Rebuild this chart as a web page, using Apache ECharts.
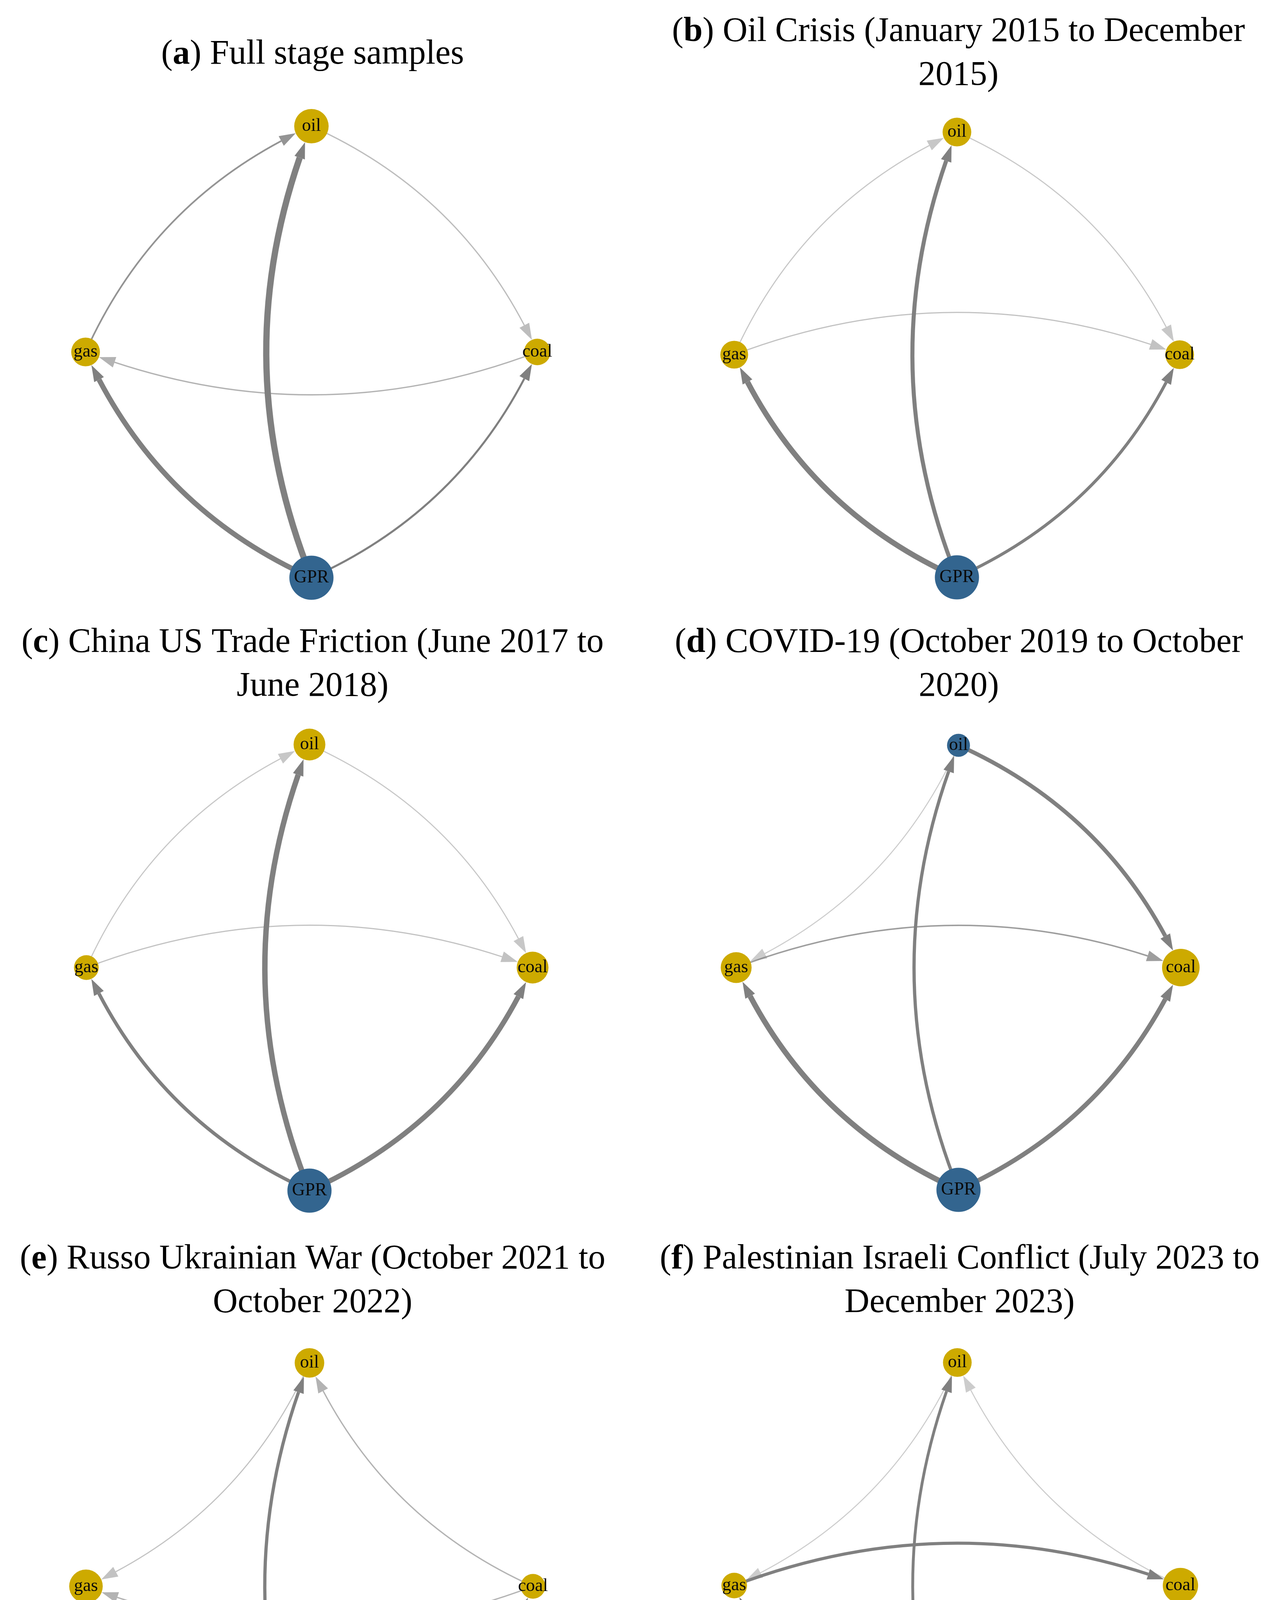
<!DOCTYPE html>
<html>
<head>
<meta charset="utf-8">
<script src="https://cdn.jsdelivr.net/npm/echarts@6/dist/echarts.min.js"></script>
<style>
html, body { margin: 0; padding: 0; background: #ffffff; }
#main { width: 3263px; height: 4735px; }
</style>
</head>
<body>
<div id="main"></div>
<script>
// network nodes and their place on the diamond
var nodeNames = ["oil", "gas", "coal", "GPR"];
var nodeX = [0, -1, 1, 0];
var nodeY = [1, 0, 0, -1];

var panelLetters = ["a", "b", "c", "d", "e", "f"];
var panelTitles = [
  " Full stage samples",
  " Oil Crisis (January 2015 to December\n2015)",
  " China US Trade Friction (June 2017 to\nJune 2018)",
  " COVID-19 (October 2019 to October\n2020)",
  " Russo Ukrainian War (October 2021 to\nOctober 2022)",
  " Palestinian Israeli Conflict (July 2023 to\nDecember 2023)"
];

// relative node strength (oil, gas, coal, GPR)
var nodeSizeA = [0.78, 0.65, 0.6, 1];
var nodeSizeB = [0.65, 0.63, 0.65, 1];
var nodeSizeC = [0.72, 0.56, 0.72, 1];
var nodeSizeD = [0.52, 0.7, 0.85, 1];
var nodeSizeE = [0.67, 0.76, 0.56, 1];
var nodeSizeF = [0.65, 0.58, 0.8, 1];

// 1 = net transmitter, 0 = net receiver
var roleA = [0, 0, 0, 1];
var roleB = [0, 0, 0, 1];
var roleC = [0, 0, 0, 1];
var roleD = [1, 0, 0, 1];
var roleE = [0, 0, 0, 1];
var roleF = [0, 0, 0, 1];

// directed spillovers: source, target, strength
var linksA = [["GPR", "oil", 1.0], ["GPR", "gas", 0.8], ["GPR", "coal", 0.22], ["gas", "oil", 0.16], ["oil", "coal", 0.08], ["coal", "gas", 0.1]];
var linksB = [["GPR", "oil", 0.6], ["GPR", "gas", 0.85], ["GPR", "coal", 0.42], ["gas", "oil", 0.06], ["oil", "coal", 0.06], ["gas", "coal", 0.07]];
var linksC = [["GPR", "oil", 0.85], ["GPR", "coal", 0.8], ["GPR", "gas", 0.5], ["gas", "oil", 0.06], ["oil", "coal", 0.06], ["gas", "coal", 0.07]];
var linksD = [["GPR", "gas", 0.85], ["GPR", "coal", 0.7], ["GPR", "oil", 0.45], ["oil", "coal", 0.6], ["oil", "gas", 0.05], ["gas", "coal", 0.14]];
var linksE = [["GPR", "gas", 1.0], ["GPR", "oil", 0.45], ["GPR", "coal", 0.3], ["oil", "gas", 0.07], ["coal", "oil", 0.1], ["coal", "gas", 0.1]];
var linksF = [["GPR", "coal", 0.85], ["GPR", "gas", 0.5], ["GPR", "oil", 0.38], ["gas", "coal", 0.42], ["oil", "gas", 0.05], ["coal", "oil", 0.05]];

var nodeSizes = [nodeSizeA, nodeSizeB, nodeSizeC, nodeSizeD, nodeSizeE, nodeSizeF];
var roles = [roleA, roleB, roleC, roleD, roleE, roleF];
var links = [linksA, linksB, linksC, linksD, linksE, linksF];

// page layout of each panel (px)
var panelBox = [
  { cx: 797, cy: 901, half: 578, tx: 800, ty: 84 },
  { cx: 2449, cy: 908, half: 570, tx: 2453, ty: 26 },
  { cx: 792, cy: 2477, half: 571, tx: 800, ty: 1590 },
  { cx: 2453, cy: 2477, half: 569, tx: 2454, ty: 1590 },
  { cx: 792, cy: 4061, half: 572, tx: 800, ty: 3168 },
  { cx: 2450, cy: 4059, half: 571, tx: 2456, ty: 3168 }
];

var YELLOW = "#CDAA00";
var BLUE = "#33658F";
var SERIF = "Liberation Serif";
var ARROW_LEN = 42;
var ARROW_W = 28;

// triangle in the front half of its box: base sits on the line end, tip reaches the node rim
var arrowPath = "path://M14 0L28 42L0 42Z M14 84L14.01 84Z";

// circle of diameter d drawn inside a box widened by one arrow length on each side,
// so that ECharts stops the edge where the arrow base should be
function nodeSymbol(d) {
  var D = d + 2 * ARROW_LEN;
  var r = (50 * d / D).toFixed(3);
  var a = (50 - r).toFixed(3), b = (50 + +r).toFixed(3);
  return "path://M0 0L0.01 0Z M100 100L99.99 100Z M" + a + " 50A" + r + " " + r + " 0 1 0 " + b + " 50A" + r + " " + r + " 0 1 0 " + a + " 50Z";
}

function bend(s, t) {
  if (s === "GPR" && t === "coal") return -0.19;
  if (s === "GPR" && t === "oil") return 0.2;
  return 0.19;
}

var chart = echarts.init(document.getElementById("main"));

var option = {
  backgroundColor: "#ffffff",
  animation: false,
  title: [],
  grid: [],
  xAxis: [],
  yAxis: [],
  series: []
};

panelBox.forEach(function (p, i) {
  option.title.push({
    text: "({l|" + panelLetters[i] + "})" + panelTitles[i],
    left: p.tx,
    top: p.ty,
    textAlign: "center",
    padding: 0,
    textStyle: {
      fontFamily: SERIF,
      fontSize: 88,
      fontWeight: "normal",
      color: "#000",
      lineHeight: 112,
      rich: {
        l: { fontFamily: SERIF, fontSize: 88, fontWeight: "bold", color: "#000", lineHeight: 112 }
      }
    }
  });
  option.grid.push({ left: p.cx - p.half, top: p.cy - p.half, width: 2 * p.half, height: 2 * p.half });
  option.xAxis.push({ gridIndex: i, type: "value", min: -1, max: 1, show: false });
  option.yAxis.push({ gridIndex: i, type: "value", min: -1, max: 1, show: false });

  option.series.push({
    type: "graph",
    coordinateSystem: "cartesian2d",
    xAxisIndex: i,
    yAxisIndex: i,
    silent: true,
    edgeSymbol: ["none", arrowPath],
    edgeSymbolSize: [10, [ARROW_W, 2 * ARROW_LEN]],
    lineStyle: { opacity: 1 },
    label: { show: true, position: "inside", fontFamily: SERIF, fontSize: 46, color: "#0a0a0a" },
    data: nodeNames.map(function (n, k) {
      var d = 113 * nodeSizes[i][k];
      return {
        name: n,
        value: [nodeX[k], nodeY[k]],
        symbol: nodeSymbol(d),
        symbolSize: d + 2 * ARROW_LEN,
        itemStyle: { color: roles[i][k] ? BLUE : YELLOW }
      };
    }),
    links: links[i].map(function (l) {
      var a = Math.min(1, 0.2 + 4 * l[2]);
      return {
        source: l[0],
        target: l[1],
        lineStyle: {
          width: 2 + 14 * l[2],
          color: "rgba(128,128,128," + a.toFixed(2) + ")",
          curveness: bend(l[0], l[1]),
          opacity: 1
        }
      };
    })
  });
});

chart.setOption(option);
</script>
</body>
</html>
